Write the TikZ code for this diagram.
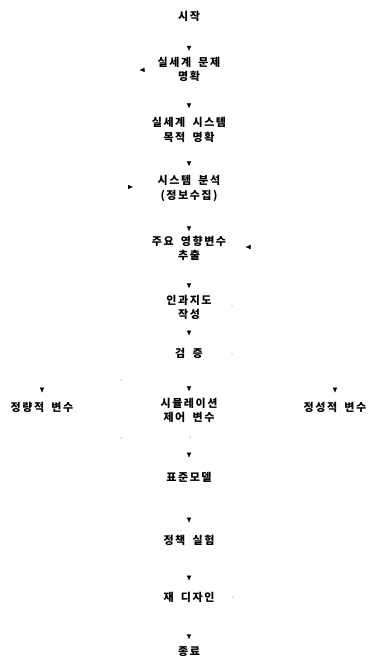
\documentclass[tikz,border=0pt]{standalone}
\usepackage{fontspec}
\newfontfamily\kr[LetterSpace=14,WordSpace=1.8]{Noto Sans CJK KR}
\usetikzlibrary{arrows.meta}
\tikzset{
  lbl/.style={font=\kr\bfseries\fontsize{11}{14.5}\selectfont, align=center, inner sep=1pt},
  edge/.style={draw=white, -{Latex[black,length=5pt,width=4.5pt]}},
  dotm/.style={circle, fill=gray!60, inner sep=0pt, minimum size=1.5pt}
}
\begin{document}
\begin{tikzpicture}[x=1pt,y=-1pt]
\useasboundingbox (0,0) rectangle (368,657);
\node[lbl] (n1) at (189,16) {시작};
\node[lbl] (n2) at (189,69.5) {실세계 문제\\명확};
\node[lbl] (n3) at (189,130) {실세계 시스템\\목적 명확};
\node[lbl] (n4) at (189,188.5) {시스템 분석\\(정보수집)};
\node[lbl] (n5) at (189,248.5) {주요 영향변수\\추출};
\node[lbl] (n6) at (189,307.5) {인과지도\\작성};
\node[lbl] (n7) at (189,353) {검 증};
\node[lbl] (n8) at (189,410.5) {시뮬레이션\\제어 변수};
\node[lbl] (q1) at (42,407) {정량적 변수};
\node[lbl] (q2) at (335,407) {정성적 변수};
\node[lbl] (n9) at (189,477) {표준모델};
\node[lbl] (n10) at (189,540) {정책 실험};
\node[lbl] (n11) at (189,597) {재 디자인};
\node[lbl] (n12) at (189,651.5) {종료};

\draw[edge,shorten >=5pt] (n1) -- (n2);
\draw[edge,shorten >=8pt] (n2) -- (n3);
\draw[edge,shorten >=8pt] (n3) -- (n4);
\draw[edge,shorten >=3.5pt] (n4) -- (n5);
\draw[edge,shorten >=5.5pt] (n5) -- (n6);
\draw[edge,shorten >=11pt] (n6) -- (n7);
\draw[edge,shorten >=5.5pt] (n7) -- (n8);
\draw[edge,shorten >=8pt] (n7.west) -| (q1.north);
\draw[edge,shorten >=8pt] (n7.east) -| (q2.north);
\draw[edge,shorten >=13pt] (n8) -- (n9);
\draw[edge,shorten >=11pt] (n9) -- (n10);
\draw[edge,shorten >=10pt] (n10) -- (n11);
\draw[edge,shorten >=6pt] (n11) -- (n12);

\coordinate (a1e) at (139.5,70);
\draw[edge] (n2.west) -- (a1e);
\coordinate (a2s) at (118,187);
\coordinate (a2e) at (133,187);
\draw[edge] (a2s) -- (a2e);
\coordinate (a3s) at (258,247);
\coordinate (a3e) at (245.5,247);
\draw[edge] (a3s) -- (a3e);

\node[dotm] (d1) at (232,306) {};
\node[dotm] (d2) at (232,354) {};
\node[dotm] (d3) at (121,380) {};
\node[dotm] (d4) at (121,438) {};
\node[dotm] (d5) at (190,437) {};
\node[dotm] (d6) at (233,597) {};
\end{tikzpicture}
\end{document}
